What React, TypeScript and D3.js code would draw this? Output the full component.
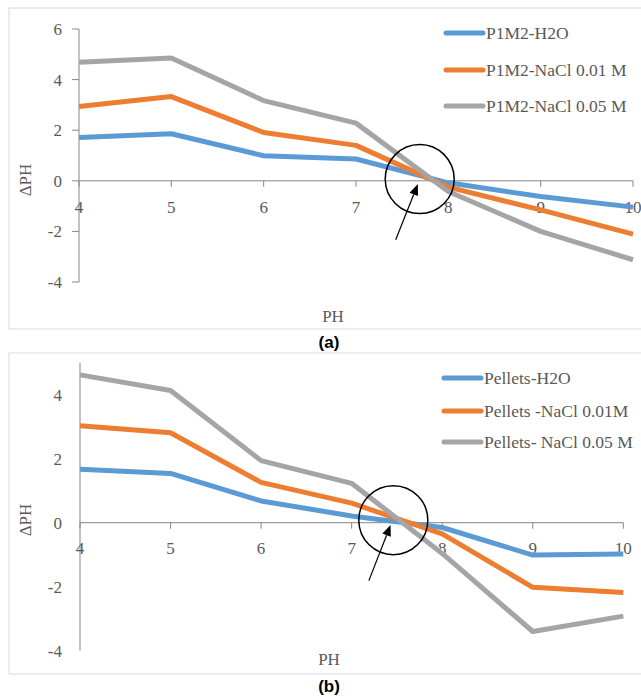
import React from 'react';
import * as d3 from 'd3';

const WIDTH = 641;
const HEIGHT = 697;

const PH = [4, 5, 6, 7, 8, 9, 10];

// panel (a)
const P1M2_H2O = [1.71, 1.86, 0.99, 0.86, -0.08, -0.62, -1.04];
const P1M2_NACL_001 = [2.94, 3.33, 1.91, 1.4, -0.25, -1.15, -2.11];
const P1M2_NACL_005 = [4.69, 4.85, 3.17, 2.28, -0.42, -2.0, -3.12];
const A_NAMES = ['P1M2-H2O', 'P1M2-NaCl 0.01 M', 'P1M2-NaCl 0.05 M'];
const A_YTICKS = [-4, -2, 0, 2, 4, 6];

// panel (b)
const PELLETS_H2O = [1.67, 1.54, 0.68, 0.21, -0.15, -1.01, -0.98];
const PELLETS_NACL_001 = [3.03, 2.81, 1.26, 0.61, -0.35, -2.02, -2.18];
const PELLETS_NACL_005 = [4.62, 4.13, 1.94, 1.23, -0.96, -3.4, -2.92];
const B_NAMES = ['Pellets-H2O', 'Pellets -NaCl 0.01M', 'Pellets- NaCl 0.05 M'];
const B_YTICKS = [-4, -2, 0, 2, 4];

const COLORS = ['#5B9BD5', '#ED7D31', '#A5A5A5'];
const TEXT = '#595959';
const AXIS = '#868686';
const SERIF = '"Liberation Serif", "DejaVu Serif", serif';

type PanelProps = {
  top: number;
  frameH: number;
  xRange: [number, number];
  yDomain: [number, number];
  yRange: [number, number];
  yTicks: number[];
  yTickMarks: boolean;
  series: number[][];
  names: string[];
  legendX: number;
  legendY: number[];
  xLabelY: number;
  xTitle: [number, number];
  yTitle: [number, number];
  circle: [number, number];
  arrow: [number, number, number, number];
  tag: string;
  tagY: number;
};

function Panel(p: PanelProps) {
  const x = d3.scaleLinear().domain([4, 10]).range(p.xRange);
  const y = d3.scaleLinear().domain(p.yDomain).range(p.yRange);
  const line = d3.line<number>().x((_, i) => x(PH[i])).y((d) => y(d));
  const y0 = y(0);

  // arrow from (x1,y1) to (x2,y2) in data units
  const [ax1, ay1, ax2, ay2] = p.arrow;
  const sx = x(ax1), sy = y(ay1), ex = x(ax2), ey = y(ay2);
  const ang = Math.atan2(ey - sy, ex - sx);
  const hl = 11, hw = 4.5;
  const bx = ex - hl * Math.cos(ang), by = ey - hl * Math.sin(ang);
  const head = [
    [ex, ey],
    [bx + hw * Math.sin(ang), by - hw * Math.cos(ang)],
    [bx - hw * Math.sin(ang), by + hw * Math.cos(ang)],
  ].map((q) => q.join(',')).join(' ');

  return (
    <g>
      <rect x={9} y={p.top} width={640} height={p.frameH} fill="#fff" stroke="#D9D9D9" strokeWidth={1} />

      {/* y axis */}
      <line x1={x(4)} x2={x(4)} y1={y(p.yDomain[1])} y2={y(p.yDomain[0])} stroke={AXIS} strokeWidth={1} />
      {p.yTicks.map((t) => (
        <g key={t}>
          {p.yTickMarks && <line x1={x(4) - 7} x2={x(4)} y1={y(t)} y2={y(t)} stroke={AXIS} />}
          <text x={62} y={y(t)} dy="0.35em" textAnchor="end" fontFamily={SERIF} fontSize={17} fill={TEXT}>{t}</text>
        </g>
      ))}

      {/* x axis */}
      <line x1={x(4)} x2={x(10)} y1={y0} y2={y0} stroke={AXIS} strokeWidth={1} />
      {PH.map((t) => (
        <g key={t}>
          <line x1={x(t)} x2={x(t)} y1={y0} y2={y0 + 6} stroke={AXIS} />
          <text x={x(t)} y={p.xLabelY} dy="0.35em" textAnchor="middle" fontFamily={SERIF} fontSize={17} fill={TEXT}>{t}</text>
        </g>
      ))}

      {p.series.map((s, i) => (
        <path key={i} d={line(s) || ''} fill="none" stroke={COLORS[i]} strokeWidth={5} strokeLinejoin="round" />
      ))}

      {/* legend */}
      {p.names.map((n, i) => (
        <g key={n}>
          <line x1={p.legendX} x2={p.legendX + 37} y1={p.legendY[i]} y2={p.legendY[i]} stroke={COLORS[i]} strokeWidth={5} strokeLinecap="round" />
          <text x={p.legendX + 40} y={p.legendY[i]} dy="0.35em" fontFamily={SERIF} fontSize={17.5} fill={TEXT}>{n}</text>
        </g>
      ))}

      <text x={p.xTitle[0]} y={p.xTitle[1]} dy="0.35em" textAnchor="middle" fontFamily={SERIF} fontSize={17} fill={TEXT}>PH</text>
      <text transform={`translate(${p.yTitle[0]},${p.yTitle[1]}) rotate(-90)`} dy="0.35em" textAnchor="middle" fontFamily={SERIF} fontSize={17} fill={TEXT}>ΔPH</text>

      {/* annotation */}
      <circle cx={x(p.circle[0])} cy={y(p.circle[1])} r={34.5} fill="none" stroke="#000" strokeWidth={1.5} />
      <line x1={sx} y1={sy} x2={bx} y2={by} stroke="#000" strokeWidth={1.2} />
      <polygon points={head} fill="#000" />

      <text x={329} y={p.tagY} dy="0.35em" textAnchor="middle" fontFamily='"Liberation Sans", Arial, sans-serif' fontWeight="bold" fontSize={17} fill="#000">{p.tag}</text>
    </g>
  );
}

export default function App() {
  return (
    <svg width={WIDTH} height={HEIGHT} style={{ position: 'absolute', left: 0, top: 0, background: '#fff' }}>
      <Panel
        top={8}
        frameH={321}
        xRange={[79, 633]}
        yDomain={[-4, 6]}
        yRange={[282, 29]}
        yTicks={A_YTICKS}
        yTickMarks={true}
        series={[P1M2_H2O, P1M2_NACL_001, P1M2_NACL_005]}
        names={A_NAMES}
        legendX={446}
        legendY={[33, 70, 106]}
        xLabelY={207}
        xTitle={[333, 316]}
        yTitle={[25, 180]}
        circle={[7.69, 0.07]}
        arrow={[7.43, -2.33, 7.67, -0.13]}
        tag="(a)"
        tagY={342}
      />
      <Panel
        top={353}
        frameH={321}
        xRange={[80, 623.3]}
        yDomain={[-4, 5]}
        yRange={[650.7, 362.7]}
        yTicks={B_YTICKS}
        yTickMarks={false}
        series={[PELLETS_H2O, PELLETS_NACL_001, PELLETS_NACL_005]}
        names={B_NAMES}
        legendX={444}
        legendY={[378, 411, 442]}
        xLabelY={548}
        xTitle={[329, 659]}
        yTitle={[25, 520]}
        circle={[7.46, 0.08]}
        arrow={[7.19, -1.81, 7.43, -0.07]}
        tag="(b)"
        tagY={686}
      />
    </svg>
  );
}
